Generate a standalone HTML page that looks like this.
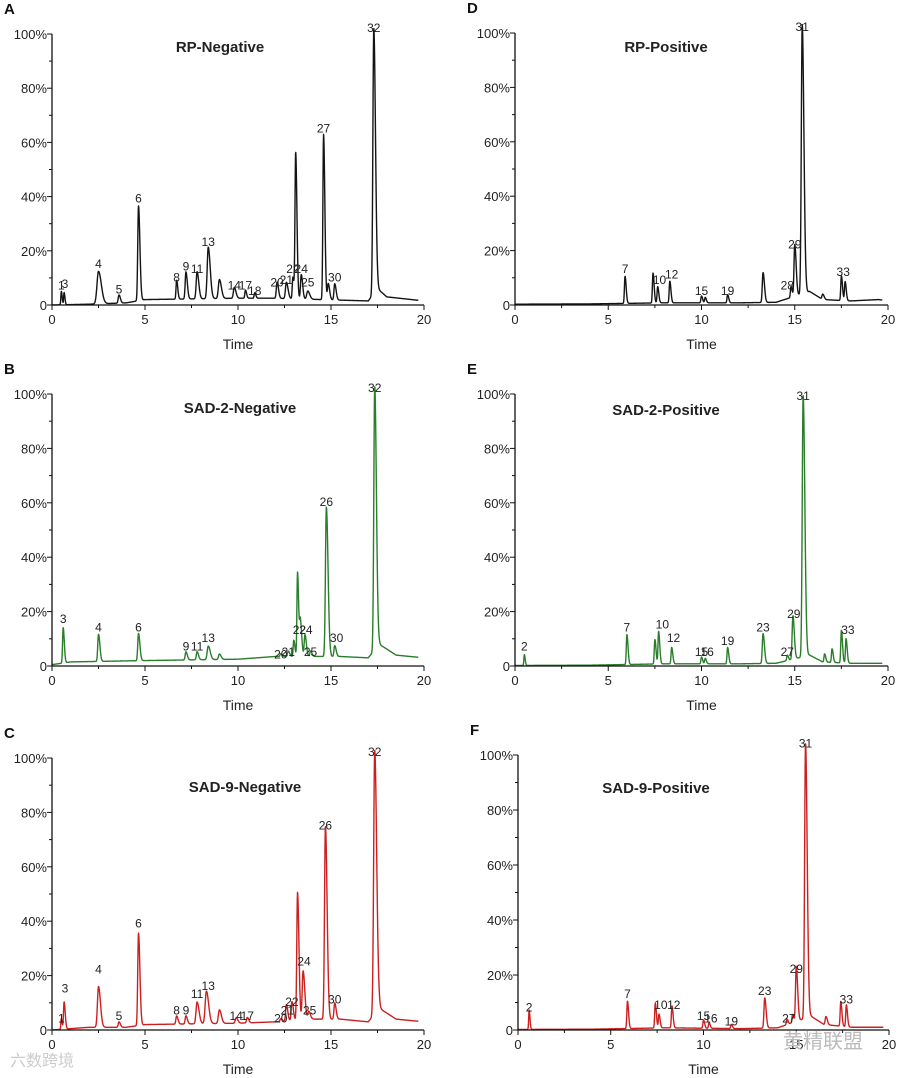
<!DOCTYPE html>
<html><head><meta charset="utf-8"><style>
html,body{margin:0;padding:0;background:#fff}
svg{display:block;font-family:"Liberation Sans","Noto Sans CJK SC",sans-serif}
</style></head><body>
<svg id="chart" width="900" height="1078" viewBox="0 0 900 1078"></svg>
<script>
// ---- data: peaks [time], [height %], [width min], labels ----
const xTicks=[0,5,10,15,20];
const yTickLabels=["0","20%","40%","60%","80%","100%"];
const yTickVals=[0,20,40,60,80,100];

const aTimes=[0.5,0.65,2.5,3.6,4.65,6.7,7.2,7.8,8.4,9.0,9.8,10.4,10.9,12.1,12.6,12.95,13.1,13.4,13.75,14.6,14.85,15.2,17.3];
const aHeights=[5,4.5,12,3,35,7,10,10,19,7,4,3,2,6,6,8,54,9,3,61,6,6,98];
const aWidths=[0.03,0.03,0.1,0.05,0.05,0.04,0.05,0.06,0.07,0.07,0.06,0.04,0.04,0.05,0.06,0.04,0.045,0.05,0.07,0.045,0.05,0.05,0.06];
const aBaseT=[0,2,4,5,10,12,14.5,17,17.5,18,20];
const aBaseV=[0,0.3,0.8,2,2.5,2.5,2,1.5,6,3,1.5];
const aLabT=[0.5,0.7,2.5,3.6,4.65,6.7,7.2,7.8,8.4,9.8,10.4,10.9,12.1,12.6,12.95,13.4,13.75,14.6,15.2,17.3];
const aLabV=[5,5.5,13,3.5,37,8,12,11,21,5,5,3,6,7,11,11,6,63,8,100];
const aLabs=["1","3","4","5","6","8","9","11","13","14","17","18","20","21","22","24","25","27","30","32"];

const bTimes=[0.6,2.5,4.65,7.2,7.8,8.4,9.0,12.3,12.7,13.0,13.2,13.35,13.6,13.9,14.75,15.2,17.35];
const bHeights=[13,10,10,3,3,5,2,1,2,6,31,13,8,2,55,4,97];
const bWidths=[0.04,0.05,0.05,0.05,0.05,0.07,0.06,0.05,0.05,0.04,0.04,0.05,0.05,0.05,0.06,0.05,0.06];
const bBaseT=[0,1,5,10,12,14,15.5,17,17.6,18.5,20];
const bBaseV=[0.5,1.5,2,2.5,3.5,3.5,3.5,3,8,4,3];
const bLabT=[0.6,2.5,4.65,7.2,7.8,8.4,12.3,12.7,13.3,13.65,13.9,14.75,15.3,17.35];
const bLabV=[15,12,12,5,5,8,2,3,11,11,3,58,8,100];
const bLabs=["3","4","6","9","11","13","20","21","22","24","25","26","30","32"];

const cTimes=[0.5,0.65,2.5,3.6,4.65,6.7,7.2,7.8,8.3,9.0,9.9,10.5,12.3,12.6,12.9,13.2,13.5,13.8,14.7,15.2,17.35];
const cHeights=[4,10,15,2,34,3,3,8,12,5,2,2,1,6,7,47,18,3,71,6,97];
const cWidths=[0.03,0.04,0.07,0.05,0.05,0.05,0.05,0.07,0.08,0.07,0.06,0.05,0.05,0.05,0.05,0.05,0.06,0.06,0.06,0.05,0.07];
const cBaseT=[0,2,4,5,10,12,14,15.5,17,17.6,18.5,20];
const cBaseV=[0,1,1,2,2.5,3,4,4,3,8,4,3];
const cLabT=[0.5,0.7,2.5,3.6,4.65,6.7,7.2,7.8,8.4,9.9,10.5,12.3,12.65,12.9,13.55,13.85,14.7,15.2,17.35];
const cLabV=[2,13,20,3,37,5,5,11,14,3,3,2,5,8,23,5,73,9,100];
const cLabs=["1","3","4","5","6","8","9","11","13","14","17","20","21","22","24","25","26","30","32"];

const dTimes=[5.9,7.4,7.65,8.3,10.0,10.2,11.4,13.3,14.8,15.0,15.4,16.5,17.5,17.7];
const dHeights=[10,11,6,8,2.5,2,3,11,4,19,99,2,9,7];
const dWidths=[0.04,0.04,0.04,0.04,0.04,0.04,0.04,0.05,0.04,0.05,0.06,0.05,0.04,0.04];
const dBaseT=[0,4,8,12,14,15.8,16.5,18,19.5,20];
const dBaseV=[0.3,0.4,0.8,0.8,1,5,2,1.5,2,1.5];
const dLabT=[5.9,7.75,8.4,10.0,11.4,14.6,15.0,15.4,17.6];
const dLabV=[11,7,9,3,3,5,20,100,10];
const dLabs=["7","10","12","15","19","28","29","31","33"];

const eTimes=[0.5,6.0,7.5,7.7,8.4,10.0,10.2,11.4,13.3,14.6,14.9,15.45,16.6,17.0,17.5,17.75];
const eHeights=[4,11,9,12,6,2.5,2,6,11,2,16,96,3,5,12,9];
const eWidths=[0.03,0.04,0.04,0.04,0.04,0.04,0.04,0.04,0.05,0.04,0.05,0.06,0.04,0.04,0.04,0.04];
const eBaseT=[0,4,8,12,14,15.8,16.5,18,20];
const eBaseV=[0.2,0.3,0.8,0.8,1,4,1.5,1,1];
const eLabT=[0.5,6.0,7.9,8.5,10.0,10.3,11.4,13.3,14.6,14.95,15.45,17.85];
const eLabV=[5,12,13,8,3,3,7,12,3,17,97,11];
const eLabs=["2","7","10","12","15","16","19","23","27","29","31","33"];

const fTimes=[0.6,5.9,7.4,7.6,8.3,10.0,10.3,11.5,13.3,14.5,14.8,15.0,15.5,16.6,17.4,17.7];
const fHeights=[7,10,9,5,8,3,2,1.5,11,2,3,20,100,3,9,8];
const fWidths=[0.03,0.04,0.04,0.04,0.04,0.04,0.04,0.04,0.05,0.04,0.04,0.05,0.06,0.05,0.04,0.04];
const fBaseT=[0,4,8,12,14,15.8,16.5,18,20];
const fBaseV=[0.2,0.3,0.8,0.5,0.8,5,2,1,1];
const fLabT=[0.6,5.9,7.7,8.4,10.0,10.4,11.5,13.3,14.6,15.0,15.5,17.7];
const fLabV=[6,11,7,7,3,2,1,12,2,20,102,9];
const fLabs=["2","7","10","12","15","16","19","23","27","29","31","33"];

const panels=[
 {id:"a",letter:"A",title:"RP-Negative",x0:52,x1:424,y0:305,y1:34,color:"#141414",tx:220,ty:52,t:aTimes,h:aHeights,w:aWidths,bt:aBaseT,bv:aBaseV,lt:aLabT,lv:aLabV,ls:aLabs},
 {id:"b",letter:"B",title:"SAD-2-Negative",x0:52,x1:424,y0:666,y1:394,color:"#2a7d2a",tx:240,ty:413,t:bTimes,h:bHeights,w:bWidths,bt:bBaseT,bv:bBaseV,lt:bLabT,lv:bLabV,ls:bLabs},
 {id:"c",letter:"C",title:"SAD-9-Negative",x0:52,x1:424,y0:1030,y1:758,color:"#cc2020",tx:245,ty:792,t:cTimes,h:cHeights,w:cWidths,bt:cBaseT,bv:cBaseV,lt:cLabT,lv:cLabV,ls:cLabs},
 {id:"d",letter:"D",title:"RP-Positive",x0:515,x1:888,y0:305,y1:33,color:"#141414",tx:666,ty:52,t:dTimes,h:dHeights,w:dWidths,bt:dBaseT,bv:dBaseV,lt:dLabT,lv:dLabV,ls:dLabs},
 {id:"e",letter:"E",title:"SAD-2-Positive",x0:515,x1:888,y0:666,y1:394,color:"#2a7d2a",tx:666,ty:415,t:eTimes,h:eHeights,w:eWidths,bt:eBaseT,bv:eBaseV,lt:eLabT,lv:eLabV,ls:eLabs},
 {id:"f",letter:"F",title:"SAD-9-Positive",x0:518,x1:889,y0:1030,y1:755,color:"#cc2020",tx:656,ty:793,t:fTimes,h:fHeights,w:fWidths,bt:fBaseT,bv:fBaseV,lt:fLabT,lv:fLabV,ls:fLabs}
];

const NS="http://www.w3.org/2000/svg";
const svg=document.getElementById("chart");
function mk(tag,attrs,parent){const e=document.createElementNS(NS,tag);for(const k in attrs)e.setAttribute(k,attrs[k]);(parent||svg).appendChild(e);return e;}
function interp(ts,vs,x){if(x<=ts[0])return vs[0];for(let i=1;i<ts.length;i++){if(x<=ts[i]){const f=(x-ts[i-1])/(ts[i]-ts[i-1]);return vs[i-1]+f*(vs[i]-vs[i-1]);}}return vs[vs.length-1];}

panels.forEach(p=>{
 const g=mk("g",{});
 
 
 const X=t=>p.x0+(t/20)*(p.x1-p.x0);
 const Y=v=>p.y0-(v/100)*(p.y0-p.y1);
 const L=mk("text",{x:p.x0-48,y:p.y1-20,"font-size":"15","font-weight":"bold",fill:"#111"},g);L.textContent=p.letter;
 
 
 const T=mk("text",{x:p.tx,y:p.ty,"font-size":"15","font-weight":"bold","text-anchor":"middle",fill:"#222"},g);T.textContent=p.title;
 
 
 let d="";
 for(let i=0;i<=1500;i++){
  const t=20*i/1500;let v=interp(p.bt,p.bv,t);
  for(let k=0;k<p.t.length;k++){
   const w=p.w[k];const dt=t-p.t[k];
   const s=dt<0?w*0.8:w*1.5;v+=p.h[k]*Math.exp(-dt*dt/(2*s*s));
  }
  if(t>19.7)continue;
  d+=(i?"L":"M")+X(t).toFixed(2)+","+Y(v).toFixed(2);
 }
 const tr=mk("path",{d:d,fill:"none",stroke:p.color,"stroke-width":"1.4","stroke-linejoin":"round"},g);
 
 
 const ax=mk("path",{d:`M${p.x0},${p.y1}V${p.y0}H${p.x1}`,fill:"none",stroke:"#111","stroke-width":"1.3"},g);
 
 
 for(let m=0;m<=20;m+=2.5){const major=m%5===0;mk("line",{x1:X(m),x2:X(m),y1:p.y0,y2:p.y0+(major?5:3),stroke:"#111","stroke-width":"1"},g);}
 xTicks.forEach(v=>{const e=mk("text",{x:X(v),y:p.y0+19,"font-size":"13","text-anchor":"middle",fill:"#222"},g);e.textContent=v;
  
  });
 for(let m=0;m<=100;m+=10){mk("line",{x1:p.x0,x2:p.x0-(m%20===0?5:3),y1:Y(m),y2:Y(m),stroke:"#111","stroke-width":"1"},g);}
 yTickVals.forEach((v,i)=>{const e=mk("text",{x:p.x0-5,y:Y(v)+5,"font-size":"13","text-anchor":"end",fill:"#222"},g);e.textContent=yTickLabels[i];
  
  });
 const xt=mk("text",{x:(p.x0+p.x1)/2,y:p.y0+44,"font-size":"14","text-anchor":"middle",fill:"#222"},g);xt.textContent="Time";
 
 
 p.ls.forEach((s,i)=>{const e=mk("text",{x:X(p.lt[i]),y:Y(p.lv[i])-2,"font-size":"12","text-anchor":"middle",fill:"#222"},g);e.textContent=s;
  
  });
});
const w1=mk("text",{x:10,y:1066,"font-size":"16",fill:"#ccc"});w1.textContent="六数跨境";


const w2=mk("text",{x:783,y:1048,"font-size":"20",fill:"#bbb"});w2.textContent="黄精联盟";


</script>
</body></html>
